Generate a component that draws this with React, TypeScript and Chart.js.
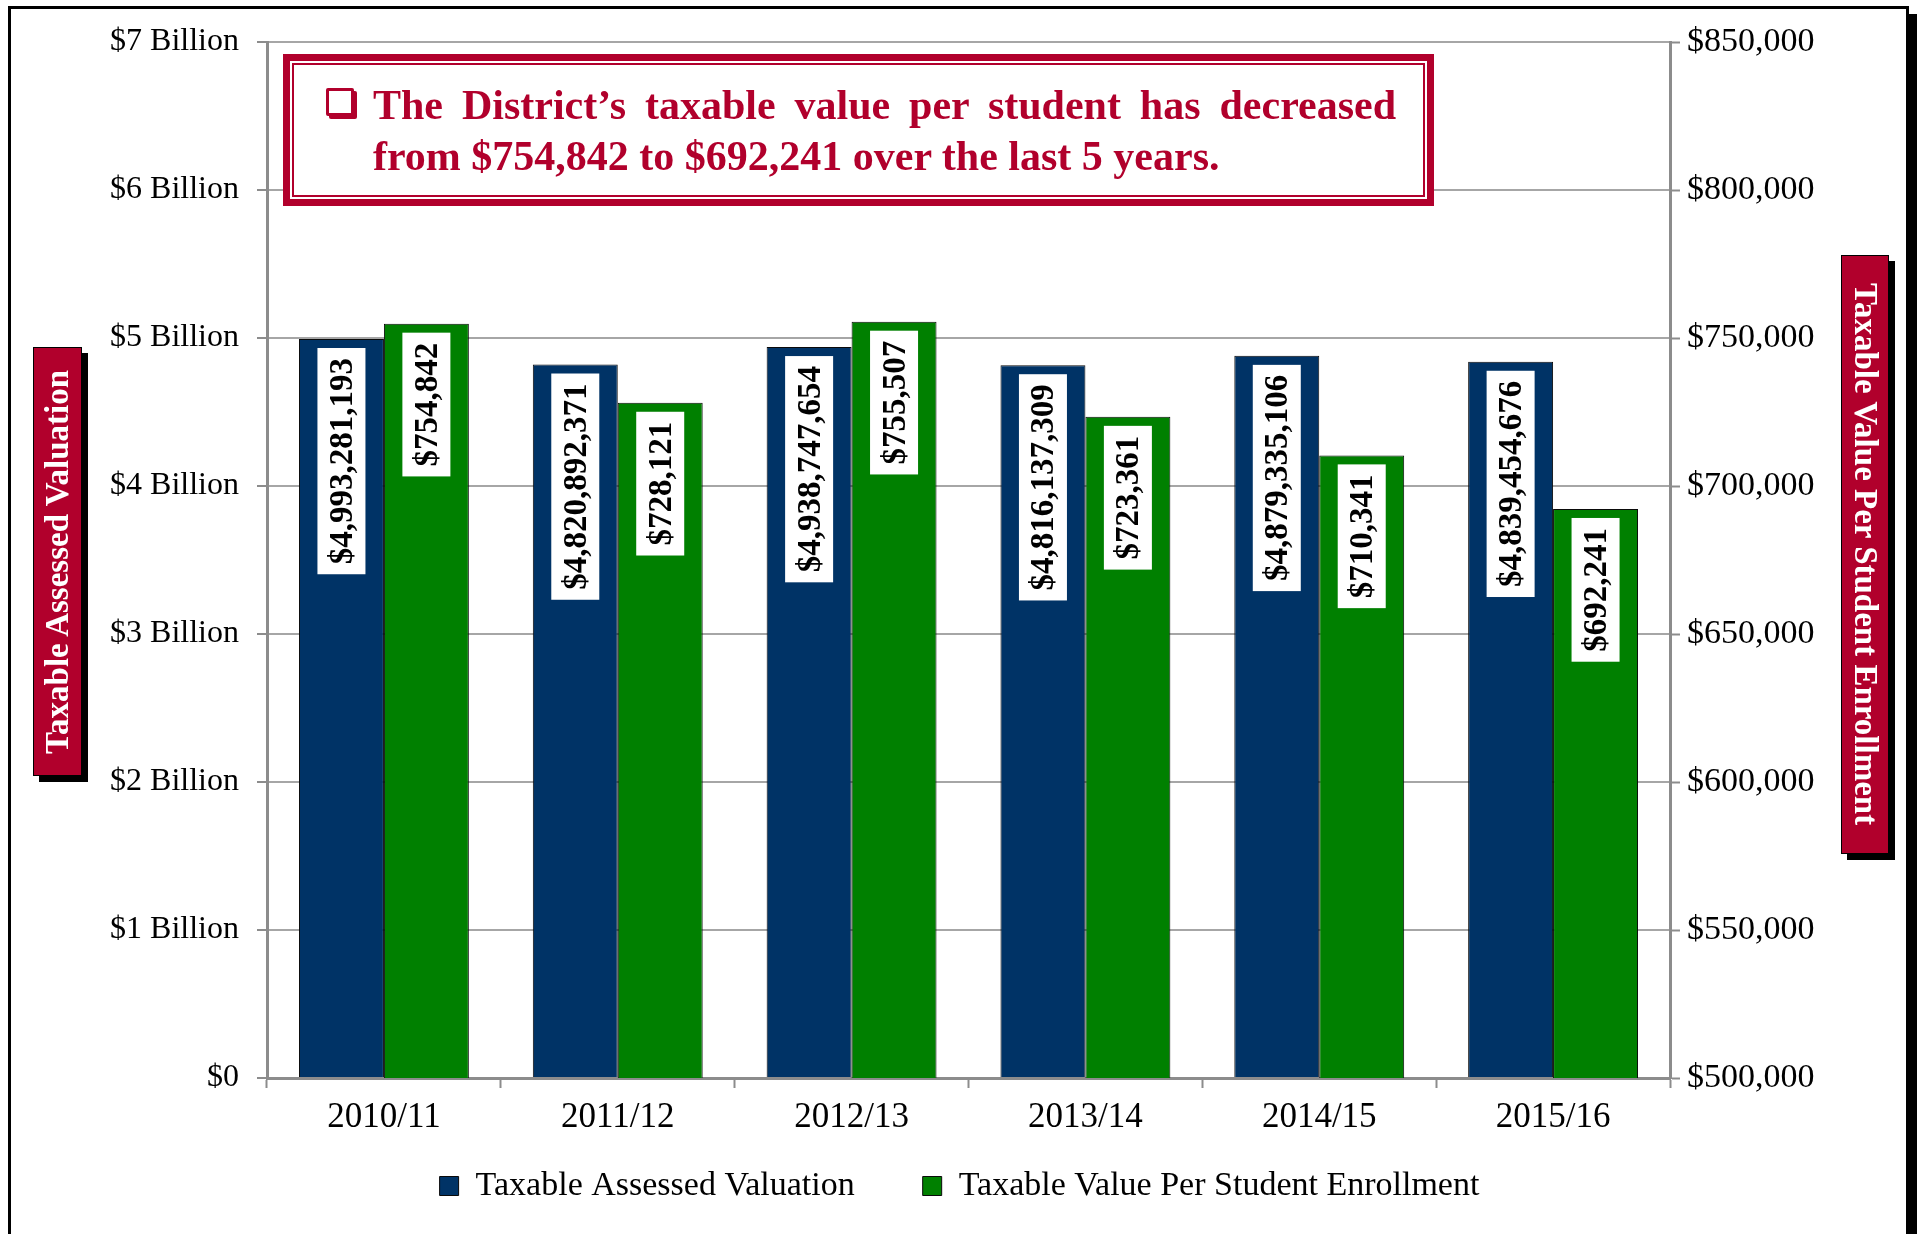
import React, { useEffect, useRef } from "react";
import { Chart, registerables } from "chart.js";

Chart.register(...registerables);

const categories = ["2010/11", "2011/12", "2012/13", "2013/14", "2014/15", "2015/16"];
const assessedValuation = [4993281193, 4820892371, 4938747654, 4816137309, 4879335106, 4839454676];
const valuePerStudent = [754842, 728121, 755507, 723361, 710341, 692241];
const seriesNames = ["Taxable Assessed Valuation", "Taxable Value Per Student Enrollment"];
const leftAxisTitle = "Taxable Assessed Valuation";
const rightAxisTitle = "Taxable Value Per Student Enrollment";
const noteLine1 = "The District\u2019s taxable value per student has decreased";
const noteLine2 = "from $754,842 to $692,241 over the last 5 years.";

const CRIMSON = "#B1002C";
const BLUE = "#003366";
const GREEN = "#008000";
const SERIF = "'Liberation Serif', 'Times New Roman', serif";

const fmtMoney = (v: number) => "$" + Math.round(v).toLocaleString("en-US");

const W = 1919;
const H = 1234;
const PLOT_LEFT = 267;
const PLOT_RIGHT = 1670;
const PLOT_TOP = 42;
const PLOT_BOTTOM = 1078;
const X_AXIS_HEIGHT = 74;
const LEGEND_PAD = 68;
const LEGEND_ITEM_TOP = 1169;

const labelPlugin = {
  id: "barValueLabels",
  afterDatasetsDraw(chart: any) {
    const ctx = chart.ctx;
    chart.data.datasets.forEach((ds: any, di: number) => {
      const meta = chart.getDatasetMeta(di);
      meta.data.forEach((bar: any, i: number) => {
        const text = fmtMoney(ds.data[i]);
        ctx.save();
        ctx.font = `bold 33px ${SERIF}`;
        const tw = ctx.measureText(text).width;
        const boxW = 48;
        const boxH = tw + 20;
        const top = bar.y + 9;
        ctx.fillStyle = "#ffffff";
        ctx.fillRect(bar.x - boxW / 2, top, boxW, boxH);
        ctx.translate(bar.x, top + boxH / 2);
        ctx.rotate(-Math.PI / 2);
        ctx.fillStyle = "#000000";
        ctx.textAlign = "center";
        ctx.textBaseline = "middle";
        ctx.fillText(text, 0, 2);
        ctx.restore();
      });
    });
  },
};

const legendFitPlugin = {
  id: "legendFit",
  beforeLayout(chart: any) {
    const lg = chart.legend;
    if (lg && !lg.__patched) {
      const orig = lg.fit.bind(lg);
      lg.fit = function () {
        orig();
        this.height = H - PLOT_BOTTOM - X_AXIS_HEIGHT;
      };
      lg.__patched = true;
    }
  },
  afterLayout(chart: any) {
    const lg = chart.legend;
    if (lg) {
      lg.top = LEGEND_ITEM_TOP - LEGEND_PAD;
      lg.bottom = H;
      lg.height = lg.bottom - lg.top;
    }
  },
};

export default function App() {
  const canvasRef = useRef<HTMLCanvasElement | null>(null);

  useEffect(() => {
    document.body.style.margin = "0";
    const canvas = canvasRef.current;
    if (!canvas) return;
    const chart = new Chart(canvas, {
      type: "bar",
      data: {
        labels: categories,
        datasets: [
          {
            label: seriesNames[0],
            data: assessedValuation,
            backgroundColor: BLUE,
            borderColor: "#0a0a0a",
            borderWidth: 1,
            yAxisID: "y",
            categoryPercentage: 0.7265,
            barPercentage: 1,
          },
          {
            label: seriesNames[1],
            data: valuePerStudent,
            backgroundColor: GREEN,
            borderColor: "#0a0a0a",
            borderWidth: 1,
            yAxisID: "y1",
            categoryPercentage: 0.7265,
            barPercentage: 1,
          },
        ],
      },
      options: {
        responsive: false,
        animation: false,
        devicePixelRatio: 1,
        layout: { padding: { top: PLOT_TOP, left: 0, right: 0, bottom: 0 } },
        plugins: {
          tooltip: { enabled: false },
          legend: {
            display: true,
            position: "bottom",
            labels: {
              boxWidth: 19,
              boxHeight: 19,
              padding: LEGEND_PAD,
              color: "#000",
              font: { family: SERIF, size: 34 },
            },
          },
        },
        scales: {
          x: {
            type: "category",
            offset: true,
            grid: {
              display: true,
              offset: true,
              drawOnChartArea: false,
              drawTicks: true,
              tickLength: 10,
              tickColor: "#8c8c8c",
              tickWidth: 2,
            },
            border: { color: "#8c8c8c", width: 3 },
            ticks: { color: "#000", font: { family: SERIF, size: 35 }, padding: 9 },
            afterFit: (s: any) => {
              s.height = X_AXIS_HEIGHT;
            },
          },
          y: {
            position: "left",
            min: 0,
            max: 7e9,
            ticks: {
              stepSize: 1e9,
              color: "#000",
              font: { family: SERIF, size: 32 },
              padding: 18,
              callback: (v: any) => (Number(v) === 0 ? "$0" : `$${Number(v) / 1e9} Billion`),
            },
            grid: {
              color: "#a6a6a6",
              lineWidth: 2,
              tickLength: 10,
              tickColor: "#8c8c8c",
              tickWidth: 2,
            },
            border: { color: "#8c8c8c", width: 3 },
            afterFit: (s: any) => {
              s.width = PLOT_LEFT;
            },
          },
          y1: {
            position: "right",
            min: 500000,
            max: 850000,
            ticks: {
              stepSize: 50000,
              color: "#000",
              font: { family: SERIF, size: 34 },
              padding: 7,
              callback: (v: any) => fmtMoney(Number(v)),
            },
            grid: {
              drawOnChartArea: false,
              tickLength: 10,
              tickColor: "#8c8c8c",
              tickWidth: 2,
            },
            border: { color: "#8c8c8c", width: 3 },
            afterFit: (s: any) => {
              s.width = W - PLOT_RIGHT;
            },
          },
        },
      },
      plugins: [labelPlugin, legendFitPlugin],
    } as any);
    return () => chart.destroy();
  }, []);

  const titleBox: React.CSSProperties = {
    position: "absolute",
    background: CRIMSON,
    boxShadow: "6px 6px 0 #000",
    border: "1px solid #000",
    display: "flex",
    alignItems: "center",
    justifyContent: "center",
    color: "#fff",
    fontFamily: SERIF,
    fontWeight: "bold",
    fontSize: 33,
    boxSizing: "border-box",
  };

  return (
    <div style={{ position: "relative", width: W, height: H, overflow: "hidden", background: "#fff" }}>
      <canvas ref={canvasRef} width={W} height={H} style={{ position: "absolute", left: 0, top: 0, width: W, height: H }} />
      <div
        style={{
          position: "absolute",
          left: 8,
          top: 6,
          width: 1903 - 8,
          height: 1231 - 6,
          border: "3px solid #000",
          boxShadow: "8px 8px 0 #000",
          pointerEvents: "none",
        }}
      />
      <div style={{ ...titleBox, left: 33, top: 347, width: 49, height: 429 }}>
        <span style={{ writingMode: "vertical-rl", transform: "rotate(180deg)", whiteSpace: "nowrap" }}>{leftAxisTitle}</span>
      </div>
      <div style={{ ...titleBox, left: 1841, top: 255, width: 48, height: 599 }}>
        <span style={{ writingMode: "vertical-rl", whiteSpace: "nowrap" }}>{rightAxisTitle}</span>
      </div>
      <div
        style={{
          position: "absolute",
          left: 283,
          top: 54,
          width: 1434 - 283,
          height: 206 - 54,
          border: `7px solid ${CRIMSON}`,
          background: "#fff",
          boxSizing: "border-box",
        }}
      >
        <div
          style={{
            position: "absolute",
            left: 2,
            top: 2,
            right: 2,
            bottom: 2,
            border: `2px solid ${CRIMSON}`,
          }}
        />
        <div
          style={{
            position: "absolute",
            left: 36,
            top: 27,
            width: 22,
            height: 22,
            border: `3px solid ${CRIMSON}`,
            borderRadius: 2,
            boxShadow: `3px 3px 0 ${CRIMSON}`,
            background: "#fff",
          }}
        />
        <div
          style={{
            position: "absolute",
            left: 83,
            top: 19,
            width: 1023,
            color: CRIMSON,
            fontFamily: SERIF,
            fontWeight: "bold",
            fontSize: 42,
            lineHeight: "51px",
            whiteSpace: "nowrap",
          }}
        >
          <div style={{ textAlign: "justify", textAlignLast: "justify" }}>{noteLine1}</div>
          <div>{noteLine2}</div>
        </div>
      </div>
    </div>
  );
}
